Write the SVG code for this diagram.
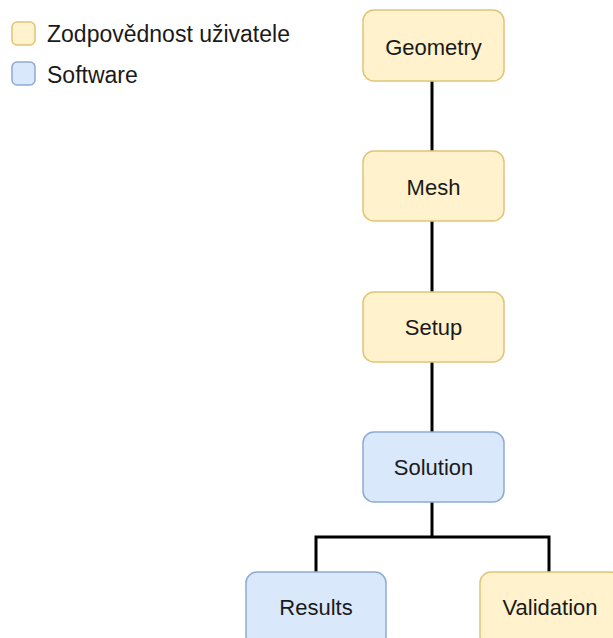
<svg xmlns="http://www.w3.org/2000/svg" width="613" height="638" viewBox="0 0 613 638">
<style>
.u{fill:#fff2cc;stroke:#e0c575;stroke-width:1.5}
.s{fill:#dae8fc;stroke:#8eaad3;stroke-width:1.5}
.t{font-family:"Liberation Sans",Arial,sans-serif;font-size:22px;fill:#1a1a1a;text-anchor:middle}
.l{font-family:"Liberation Sans",Arial,sans-serif;font-size:23px;fill:#1a1a1a}
.c{fill:none;stroke:#000;stroke-width:3}
</style>
<rect width="613" height="638" fill="#fff"/>
<g id="legend">
<rect class="u" x="12" y="22" width="23" height="23" rx="5"/>
<text class="l" x="47" y="42">Zodpovědnost uživatele</text>
<rect class="s" x="12" y="62" width="23" height="23" rx="5"/>
<text class="l" x="47" y="83">Software</text>
</g>
<g id="connectors">
<line class="c" x1="432" y1="81" x2="432" y2="151"/>
<line class="c" x1="432" y1="221" x2="432" y2="292"/>
<line class="c" x1="432" y1="362" x2="432" y2="432"/>
<polyline class="c" points="316,572 316,537 549,537 549,572"/>
<line class="c" x1="432" y1="502" x2="432" y2="537"/>
</g>
<g id="geometry"><rect class="u" x="363" y="10" width="141" height="71" rx="11"/><text class="t" x="433.5" y="55">Geometry</text></g>
<g id="mesh"><rect class="u" x="363" y="151" width="141" height="70" rx="11"/><text class="t" x="433.5" y="195">Mesh</text></g>
<g id="setup"><rect class="u" x="363" y="292" width="141" height="70" rx="11"/><text class="t" x="433.5" y="335">Setup</text></g>
<g id="solution"><rect class="s" x="363" y="432" width="141" height="70" rx="11"/><text class="t" x="433.5" y="475">Solution</text></g>
<g id="results"><rect class="s" x="246" y="572" width="140" height="75" rx="11"/><text class="t" x="316" y="615">Results</text></g>
<g id="validation"><rect class="u" x="480" y="572" width="141" height="75" rx="11"/><text class="t" x="550" y="615">Validation</text></g>
</svg>
